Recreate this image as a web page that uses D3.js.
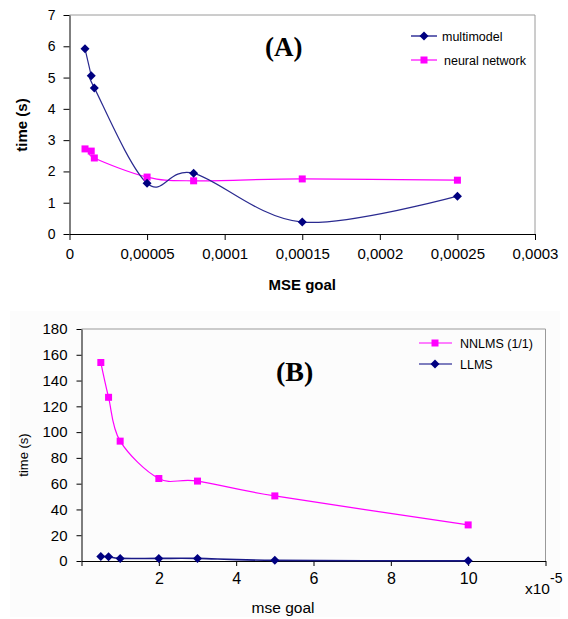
<!DOCTYPE html>
<html lang="en">
<head>
<meta charset="UTF-8">
<title>Training time vs MSE goal</title>
<script src="https://cdnjs.cloudflare.com/ajax/libs/d3/7.8.5/d3.min.js"></script>
<style>
    body { margin: 0; background: #fff; }
    svg { display: block; font-family: "Liberation Sans", Arial, sans-serif; }
    .frame { fill: none; stroke: #9a9a9a; stroke-width: 1; }
    .domain, .tick line { stroke: #000; }
    .panel-title { font-family: "Liberation Serif", "Times New Roman", serif; font-weight: bold; }
</style>
</head>
<body>
<div id="chart"></div>
<script>
// ---- panel A data ----
const mseGoalA = [0.00001, 0.000014, 0.000016, 0.00005, 0.00008, 0.00015, 0.00025];
const multimodel = [5.92, 5.06, 4.67, 1.62, 1.94, 0.38, 1.21];
const neuralNetwork = [2.72, 2.65, 2.43, 1.82, 1.70, 1.76, 1.72];
const xTicksA = [0, 0.00005, 0.0001, 0.00015, 0.0002, 0.00025, 0.0003];
const xTickLabelsA = ["0", "0,00005", "0,0001", "0,00015", "0,0002", "0,00025", "0,0003"];
const yTicksA = [0, 1, 2, 3, 4, 5, 6, 7];

// ---- panel B data (mse goal in units of 1e-5) ----
const mseGoalB = [0.5, 0.7, 1, 2, 3, 5, 10];
const nnlms = [154, 127, 93, 64, 62, 50.5, 28];
const llms = [3.4, 3.3, 2.0, 2.0, 2.0, 0.5, 0.1];
const xTicksB = [0, 2, 4, 6, 8, 10, 12];
const yTicksB = [0, 20, 40, 60, 80, 100, 120, 140, 160, 180];

const W = 568, H = 619;
const navy = "#000080", pink = "#ff00ff";

const svg = d3.select("#chart").append("svg")
    .attr("width", W).attr("height", H);

// faint background box of panel B
svg.append("rect")
    .attr("x", 10).attr("y", 311).attr("width", 550).attr("height", 306)
    .attr("fill", "#fcfcfc");

const curve = d3.curveCardinal.tension(0);

function diamond(g, pts, color, r) {
    g.selectAll(null).data(pts).enter().append("path")
        .attr("d", d => `M${d[0]},${d[1] - r}L${d[0] + r},${d[1]}L${d[0]},${d[1] + r}L${d[0] - r},${d[1]}Z`)
        .attr("fill", color);
}
function square(g, pts, color, s) {
    g.selectAll(null).data(pts).enter().append("rect")
        .attr("x", d => d[0] - s / 2).attr("y", d => d[1] - s / 2)
        .attr("width", s).attr("height", s)
        .attr("fill", color);
}

// ================= Panel A =================
{
    const x = d3.scaleLinear().domain([0, 0.0003]).range([69.5, 535]);
    const y = d3.scaleLinear().domain([0, 7]).range([234, 15]);

    svg.append("path").attr("class", "frame")
        .attr("d", `M${x(0)},${y(7)}H${x(0.0003)}V${y(0)}`);

    const xa = svg.append("g").attr("transform", `translate(0,${y(0)})`)
        .call(d3.axisBottom(x).tickValues(xTicksA).tickSize(6).tickPadding(8).tickSizeOuter(0)
            .tickFormat((d, i) => xTickLabelsA[i]));
    xa.selectAll("text").style("font-size", "15px").attr("fill", "#000");

    const ya = svg.append("g").attr("transform", `translate(${x(0)},0)`)
        .call(d3.axisLeft(y).tickValues(yTicksA).tickSize(6).tickPadding(8).tickSizeOuter(0)
            .tickFormat(d3.format("d")));
    ya.selectAll("text").style("font-size", "14px").attr("fill", "#000");

    const mm = mseGoalA.map((v, i) => [x(v), y(multimodel[i])]);
    const nn = mseGoalA.map((v, i) => [x(v), y(neuralNetwork[i])]);
    const line = d3.line().curve(curve);

    svg.append("path").attr("d", line(nn)).attr("fill", "none")
        .attr("stroke", pink).attr("stroke-width", 1.2);
    svg.append("path").attr("d", line(mm)).attr("fill", "none")
        .attr("stroke", "#2a2a90").attr("stroke-width", 1.2);
    square(svg, nn, pink, 7);
    diamond(svg, mm, navy, 4.5);

    svg.append("text").attr("x", x(0.00015)).attr("y", 290)
        .attr("text-anchor", "middle").style("font-size", "15px").style("font-weight", "bold")
        .text("MSE goal");
    svg.append("text").attr("transform", "translate(27,125) rotate(-90)")
        .attr("text-anchor", "middle").style("font-size", "15px").style("font-weight", "bold")
        .text("time (s)");
    svg.append("text").attr("class", "panel-title").attr("x", 265).attr("y", 56)
        .style("font-size", "27px").text("(A)");

    // legend
    const leg = [["multimodel", navy, "d", 36, 442], ["neural network", pink, "s", 60, 444]];
    leg.forEach(([label, color, shape, ly, tx]) => {
        svg.append("line").attr("x1", 411).attr("x2", 437).attr("y1", ly).attr("y2", ly)
            .attr("stroke", color).attr("stroke-width", 1.2);
        if (shape === "d") diamond(svg, [[424, ly]], color, 4.5);
        else square(svg, [[424, ly]], color, 7);
        svg.append("text").attr("x", tx).attr("y", ly + 4.5)
            .style("font-size", "12.5px").text(label);
    });
}

// ================= Panel B =================
{
    const x = d3.scaleLinear().domain([0, 12]).range([81.5, 545.5]);
    const y = d3.scaleLinear().domain([0, 180]).range([561, 329]);

    svg.append("path").attr("class", "frame")
        .attr("d", `M${x(0)},${y(180)}H${x(12)}V${y(0)}`);

    const xa = svg.append("g").attr("transform", `translate(0,${y(0)})`)
        .call(d3.axisBottom(x).tickValues(xTicksB).tickSize(5).tickPadding(7).tickSizeOuter(0)
            .tickFormat(d => (d === 0 || d === 12) ? "" : d));
    xa.selectAll("text").style("font-size", "16px").attr("fill", "#000");

    const ya = svg.append("g").attr("transform", `translate(${x(0)},0)`)
        .call(d3.axisLeft(y).tickValues(yTicksB).tickSize(5).tickPadding(9).tickSizeOuter(0)
            .tickFormat(d3.format("d")));
    ya.selectAll("text").style("font-size", "15px").attr("fill", "#000");

    const nn = mseGoalB.map((v, i) => [x(v), y(nnlms[i])]);
    const ll = mseGoalB.map((v, i) => [x(v), y(llms[i])]);
    const line = d3.line().curve(curve);

    svg.append("path").attr("d", line(nn)).attr("fill", "none")
        .attr("stroke", pink).attr("stroke-width", 1.2);
    svg.append("path").attr("d", line(ll)).attr("fill", "none")
        .attr("stroke", "#1a1a88").attr("stroke-width", 1.6);
    square(svg, nn, pink, 7);
    diamond(svg, ll, navy, 4.5);

    svg.append("text").attr("x", 283).attr("y", 613)
        .attr("text-anchor", "middle").style("font-size", "15.5px")
        .text("mse goal");
    svg.append("text").attr("transform", "translate(28,455) rotate(-90)")
        .attr("text-anchor", "middle").style("font-size", "13px")
        .text("time (s)");
    const sci = svg.append("text").attr("x", 525).attr("y", 594).style("font-size", "15.5px");
    sci.append("tspan").text("x10");
    sci.append("tspan").attr("dy", -11).style("font-size", "14px").text("-5");

    svg.append("text").attr("class", "panel-title").attr("x", 276).attr("y", 381)
        .style("font-size", "28px").text("(B)");

    const leg = [["NNLMS (1/1)", pink, "s", 343], ["LLMS", navy, "d", 364]];
    leg.forEach(([label, color, shape, ly]) => {
        svg.append("line").attr("x1", 419).attr("x2", 452).attr("y1", ly).attr("y2", ly)
            .attr("stroke", color).attr("stroke-width", 1.2);
        if (shape === "d") diamond(svg, [[435, ly]], color, 4.5);
        else square(svg, [[435, ly]], color, 7);
        svg.append("text").attr("x", 460).attr("y", ly + 4.5)
            .style("font-size", "12.5px").text(label);
    });
}
</script>
</body>
</html>
